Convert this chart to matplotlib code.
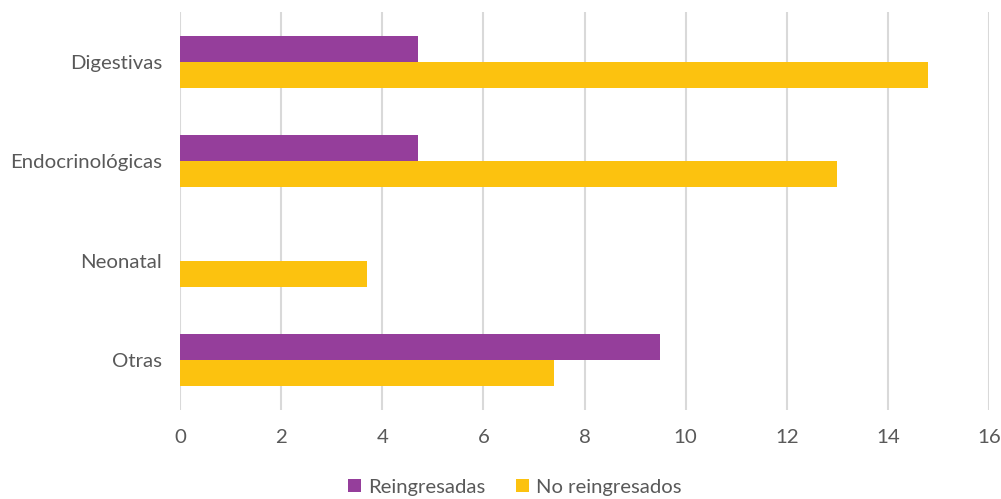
import matplotlib
matplotlib.use("Agg")
import matplotlib.pyplot as plt
import numpy as np

categories = ["Digestivas", "Endocrinológicas", "Neonatal", "Otras"]
reingresadas = [4.7, 4.7, 0, 9.5]
no_reingresados = [14.8, 13.0, 3.7, 7.4]
x_ticks = [0, 2, 4, 6, 8, 10, 12, 14, 16]

purple = "#953E9B"
yellow = "#FCC20F"
text_color = "#595959"

plt.rcParams["font.family"] = ["Lato", "DejaVu Sans"]

fig = plt.figure(figsize=(10.01, 4.99), dpi=100)
ax = fig.add_axes([180 / 1001, 1 - 410 / 499, (989 - 180) / 1001, (410 - 12) / 499])

y = np.arange(len(categories))
h = 0.26
ax.barh(y - h / 2, reingresadas, height=h, color=purple, label="Reingresadas", zorder=3)
ax.barh(y + h / 2, no_reingresados, height=h, color=yellow, label="No reingresados", zorder=3)

ax.set_xlim(0, 16)
ax.set_ylim(len(categories) - 0.5, -0.5)
ax.set_xticks(x_ticks)
ax.set_yticks(y)
ax.set_yticklabels(categories)
ax.xaxis.grid(True, color="#D9D9D9", linewidth=1.5, zorder=0)
ax.set_axisbelow(True)
for s in ax.spines.values():
    s.set_visible(False)
ax.tick_params(axis="both", length=0, labelsize=14.7, colors=text_color)
ax.tick_params(axis="x", pad=14)
ax.tick_params(axis="y", pad=13)

leg = fig.legend(loc="center", bbox_to_anchor=(515 / 1001, 1 - 487 / 499), ncol=2,
                 frameon=False, fontsize=14.6, handlelength=0.65, handleheight=0.65,
                 handletextpad=0.35, columnspacing=1.5)
for t in leg.get_texts():
    t.set_color(text_color)

fig.savefig("out.png", dpi=100)
